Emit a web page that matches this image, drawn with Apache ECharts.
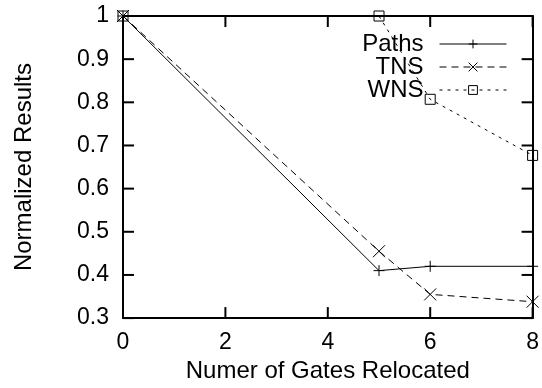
<!DOCTYPE html>
<html>
<head>
<meta charset="utf-8">
<script src="https://cdn.jsdelivr.net/npm/echarts@6/dist/echarts.min.js"></script>
<style>
  html, body { margin: 0; padding: 0; background: #fff; }
  #chart { width: 542px; height: 388px; }
</style>
</head>
<body>
<div id="chart"></div>
<script>
// Gates relocated vs. normalized timing results
const gates = [0, 5, 6, 8];
const pathsVals = [1, 0.41, 0.42, 0.42];
const tnsVals = [1, 0.455, 0.355, 0.338];
const wnsVals = [1, 1, 0.807, 0.677];
const xTicks = [0, 2, 4, 6, 8];
const yTicks = [0.3, 0.4, 0.5, 0.6, 0.7, 0.8, 0.9, 1];
const seriesNames = ['Paths', 'TNS', 'WNS'];

const FONT = 'Liberation Sans';
const FS = 23;
const FS_NAME = 24;
const TICK_LEN = 11;
const X_MIN = 0, X_MAX = 8, Y_MIN = 0.3, Y_MAX = 1;
const plus = 'path://M0,5L10,5M5,0L5,10';
const cross = 'path://M0,0L10,10M10,0L0,10';
const box = 'path://M0,0L10,0L10,10L0,10Z';

const pairs = vals => gates.map((g, i) => [g, vals[i]]);

function frameLine() {
  return { show: true, onZero: false, lineStyle: { color: '#000', width: 2 } };
}
const tickLineStyle = { stroke: '#000', lineWidth: 2 };

// inward mirrored ticks on all four sides, placed through the axis scales
function renderXTick(params, api) {
  const v = api.value(0);
  const b = api.coord([v, Y_MIN]);
  const t = api.coord([v, Y_MAX]);
  return { type: 'group', children: [
    { type: 'line', shape: { x1: b[0], y1: b[1], x2: b[0], y2: b[1] - TICK_LEN }, style: tickLineStyle },
    { type: 'line', shape: { x1: t[0], y1: t[1], x2: t[0], y2: t[1] + TICK_LEN }, style: tickLineStyle }
  ] };
}
function renderYTick(params, api) {
  const v = api.value(0);
  const l = api.coord([X_MIN, v]);
  const r = api.coord([X_MAX, v]);
  return { type: 'group', children: [
    { type: 'line', shape: { x1: l[0], y1: l[1], x2: l[0] + TICK_LEN, y2: l[1] }, style: tickLineStyle },
    { type: 'line', shape: { x1: r[0], y1: r[1], x2: r[0] - TICK_LEN, y2: r[1] }, style: tickLineStyle }
  ] };
}

const legends = seriesNames.map((name, i) => ({
  right: 35, top: 32 + i * 23, orient: 'horizontal', align: 'right',
  itemWidth: 67, itemHeight: 11, padding: 0,
  itemStyle: { borderWidth: 1 },
  lineStyle: { width: 1 },
  textStyle: { fontFamily: FONT, fontSize: FS_NAME, color: '#000', padding: [0, 11, 0, 0], lineHeight: 22 },
  data: [name]
}));

const chart = echarts.init(document.getElementById('chart'), null, { renderer: 'canvas' });

chart.setOption({
  animation: false,
  backgroundColor: '#fff',
  grid: { left: 123, right: 6, top: 16, bottom: 65, show: false },
  legend: legends,
  xAxis: [{
    type: 'value', min: X_MIN, max: X_MAX, interval: 2,
    name: 'Numer of Gates Relocated', nameLocation: 'middle', nameGap: 35,
    nameTextStyle: { fontFamily: FONT, fontSize: FS_NAME, color: '#000' },
    axisLine: frameLine(),
    axisTick: { show: false },
    axisLabel: { fontFamily: FONT, fontSize: FS, color: '#000', margin: 13, formatter: v => xTicks.includes(v) ? String(v) : '' },
    splitLine: { show: false }
  }, {
    type: 'value', min: X_MIN, max: X_MAX, interval: 2, position: 'top',
    axisLine: frameLine(),
    axisTick: { show: false }, axisLabel: { show: false }, splitLine: { show: false }
  }],
  yAxis: [{
    type: 'value', min: Y_MIN, max: Y_MAX, interval: 0.1,
    name: 'Normalized Results', nameLocation: 'middle', nameGap: 87,
    nameTextStyle: { fontFamily: FONT, fontSize: FS_NAME, color: '#000' },
    axisLine: frameLine(),
    axisTick: { show: false },
    axisLabel: { fontFamily: FONT, fontSize: FS, color: '#000', margin: 14,
      formatter: v => { const r = Math.round(v * 10) / 10; return yTicks.includes(r) ? (r === 1 ? '1' : r.toFixed(1)) : ''; } },
    splitLine: { show: false }
  }, {
    type: 'value', min: Y_MIN, max: Y_MAX, interval: 0.1, position: 'right',
    axisLine: frameLine(),
    axisTick: { show: false }, axisLabel: { show: false }, splitLine: { show: false }
  }],
  series: [{
    name: 'xTicks', type: 'custom', silent: true, clip: false, z: 1,
    data: xTicks.map(v => [v]), renderItem: renderXTick
  }, {
    name: 'yTicks', type: 'custom', silent: true, clip: false, z: 1,
    data: yTicks.map(v => [v]), renderItem: renderYTick
  }, {
    name: 'Paths', type: 'line', data: pairs(pathsVals), clip: false,
    symbol: plus, symbolSize: 11,
    lineStyle: { color: '#000', width: 1, type: 'solid' },
    itemStyle: { color: 'rgba(0,0,0,0)', borderColor: '#000', borderWidth: 1 }
  }, {
    name: 'TNS', type: 'line', data: pairs(tnsVals), clip: false,
    symbol: cross, symbolSize: 12,
    lineStyle: { color: '#000', width: 1, type: [7, 5] },
    itemStyle: { color: 'rgba(0,0,0,0)', borderColor: '#000', borderWidth: 1 }
  }, {
    name: 'WNS', type: 'line', data: pairs(wnsVals), clip: false,
    symbol: box, symbolSize: 10,
    lineStyle: { color: '#000', width: 1, type: [3, 5] },
    itemStyle: { color: 'rgba(0,0,0,0)', borderColor: '#000', borderWidth: 1 }
  }]
});
</script>
</body>
</html>
